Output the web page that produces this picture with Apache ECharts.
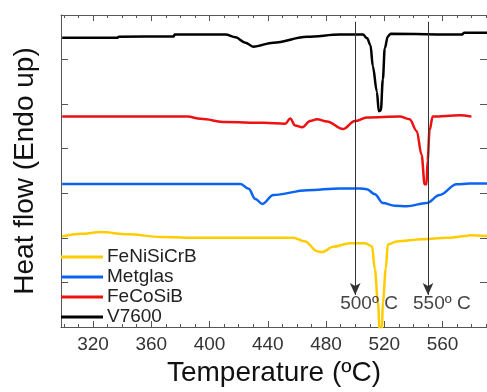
<!DOCTYPE html>
<html>
<head>
<meta charset="utf-8">
<script src="https://cdn.jsdelivr.net/npm/echarts@6/dist/echarts.min.js"></script>
<style>
html,body{margin:0;padding:0;background:#fff;}
#chart{width:487px;height:392px;}
</style>
</head>
<body>
<div id="chart"></div>
<script>
// Temperature (ºC), heat flow (arbitrary units, stacked offsets)
const v7600 = [
  [298.8,6.49],[337,6.49],[337.5,6.51],[375.4,6.52],[376,6.56],[411,6.56],[417.8,6.50],[424.6,6.38],
  [430,6.29],[443.8,6.38],[467,6.51],[489.6,6.56],[505.3,6.56],[508.2,6.48],[510.5,6.32],[512.1,5.85],
  [514.9,5.28],[516.2,4.84],[517.6,4.86],[519,5.56],[520.3,6.25],[522.4,6.52],[524.4,6.58],[573,6.56],
  [575,6.60],[591,6.60]
];
const fecosib = [
  [298.8,4.72],[385,4.72],[393.8,4.67],[411,4.60],[437,4.58],[452,4.56],[455.4,4.68],[458.8,4.52],
  [463.6,4.48],[469,4.62],[473.8,4.66],[480.7,4.61],[491.6,4.44],[499.8,4.62],[508,4.70],[530.6,4.72],
  [537.4,4.66],[542.2,4.40],[545.6,3.86],[547.7,3.20],[549,3.20],[549.7,3.73],[551.1,4.42],[553.2,4.72],
  [571.6,4.75],[579.8,4.72]
];
const metglas = [
  [298.8,3.21],[421.3,3.21],[426.8,3.10],[431.5,2.87],[436.2,2.76],[443.8,2.96],[467,3.07],[489.6,3.11],
  [503.2,3.11],[508,3.09],[513.5,2.98],[519,2.78],[527.2,2.72],[535.4,2.71],[549,2.78],[558,2.96],
  [569.6,3.20],[578.5,3.22],[591,3.22]
];
const fenisicrb = [
  [298.8,2.03],[311.8,2.09],[325.5,2.13],[344,2.08],[366.5,2.02],[394,2.00],[428,2.00],[457.4,2.00],
  [465.6,1.92],[473.8,1.70],[477.3,1.68],[484.8,1.80],[496.4,1.88],[506.7,1.88],[511.5,1.81],[513.5,1.30],
  [515.6,0.55],[516.9,-0.1],[518.3,-0.1],[519,0.55],[521,1.30],[522.4,1.85],[528.5,1.92],[546.3,1.97],
  [562.7,2.00],[576.4,2.04],[578.5,2.06],[591,2.04]
];
const seriesNames = ['FeNiSiCrB','Metglas','FeCoSiB','V7600'];
const xLabelValues = [320,360,400,440,480,520,560];
const xMinorTicks = [300,310,320,330,340,350,360,370,380,390,400,410,420,430,440,450,460,470,480,490,500,510,520,530,540,550,560,570,580,590];
const yTickValues = [1,2,3,4,5,6];
const arrowTemps = [500,550];
const arrowLabels = ['500º C','550º C'];

const font = 'Arial, "Liberation Sans", sans-serif';
const axisColor = '#555';
const X_MIN = 298, X_MAX = 590.5;

function xAx(pos, major, withLabel, withLine) {
  return {
    type:'value', position:pos, min:X_MIN, max:X_MAX, gridIndex:0,
    axisLine:{show:withLine, lineStyle:{color:axisColor,width:1}},
    axisTick:{show:true, inside:true, length: major?6:3, customValues: major?xLabelValues:xMinorTicks,
      lineStyle:{color:axisColor,width:1}},
    axisLabel:{show:withLabel, customValues:xLabelValues, margin:8, fontSize:19, color:'#333', fontFamily:font},
    splitLine:{show:false},
    name: (pos==='bottom' && withLabel) ? 'Temperature (ºC)' : '',
    nameLocation:'middle', nameGap:32,
    nameTextStyle:{fontSize:28, color:'#111', fontFamily:font}
  };
}
function yAx(pos, withName) {
  return {
    type:'value', position:pos, min:0, max:7, interval:1, gridIndex:0,
    axisLine:{show:true, lineStyle:{color:axisColor,width:1}},
    axisTick:{show:true, inside:true, length:7, customValues:yTickValues, lineStyle:{color:axisColor,width:1}},
    axisLabel:{show:false},
    splitLine:{show:false},
    name: withName ? 'Heat flow (Endo up)' : '',
    nameLocation:'middle', nameGap:22,
    nameTextStyle:{fontSize:28, color:'#111', fontFamily:font}
  };
}

const colors = {FeNiSiCrB:'#ffcc00', Metglas:'#0a64f0', FeCoSiB:'#ee1111', V7600:'#000000'};
const dataMap = {FeNiSiCrB:fenisicrb, Metglas:metglas, FeCoSiB:fecosib, V7600:v7600};

const series = seriesNames.map(n => ({
  name:n, type:'line', data:dataMap[n], symbol:'none', showSymbol:false,
  smooth:0.35, smoothMonotone:'x',
  xAxisIndex:0, yAxisIndex:0, clip:true, animation:false,
  lineStyle:{color:colors[n], width:2.5}, itemStyle:{color:colors[n]}
}));

series.push({
  name:'arrows', type:'line', data:[], xAxisIndex:0, yAxisIndex:0, animation:false,
  markLine:{
    silent:true, animation:false,
    symbol:['none','arrow'], symbolSize:[8,12],
    lineStyle:{color:'#333', width:1, type:'solid'},
    label:{show:false},
    data: arrowTemps.map(t => [{coord:[t,6.85]},{coord:[t,0.72]}])
  },
  markPoint:{
    silent:true, animation:false, symbol:'circle', symbolSize:0,
    label:{show:true, formatter:'{b}', fontSize:19, color:'#444', fontFamily:font, position:'inside'},
    data: arrowTemps.map((t,i) => ({name:arrowLabels[i], coord:[t+9.5,0.53]}))
  }
});

const chart = echarts.init(document.getElementById('chart'), null, {renderer:'canvas'});
chart.setOption({
  animation:false,
  backgroundColor:'#fff',
  grid:{left:61, top:15, width:427, height:317, containLabel:false},
  xAxis:[ xAx('bottom',true,true,true), xAx('bottom',false,false,false), xAx('top',true,false,true), xAx('top',false,false,false) ],
  yAxis:[ yAx('left',true), yAx('right',false) ],
  legend:{
    data:seriesNames, orient:'vertical', left:61, top:247,
    icon:'rect', itemWidth:42, itemHeight:3, itemGap:0, padding:0,
    textStyle:{fontSize:19, color:'#222', fontFamily:font, lineHeight:20, padding:[0,0,0,-1]},
    selectedMode:false
  },
  series:series
});
</script>
</body>
</html>
